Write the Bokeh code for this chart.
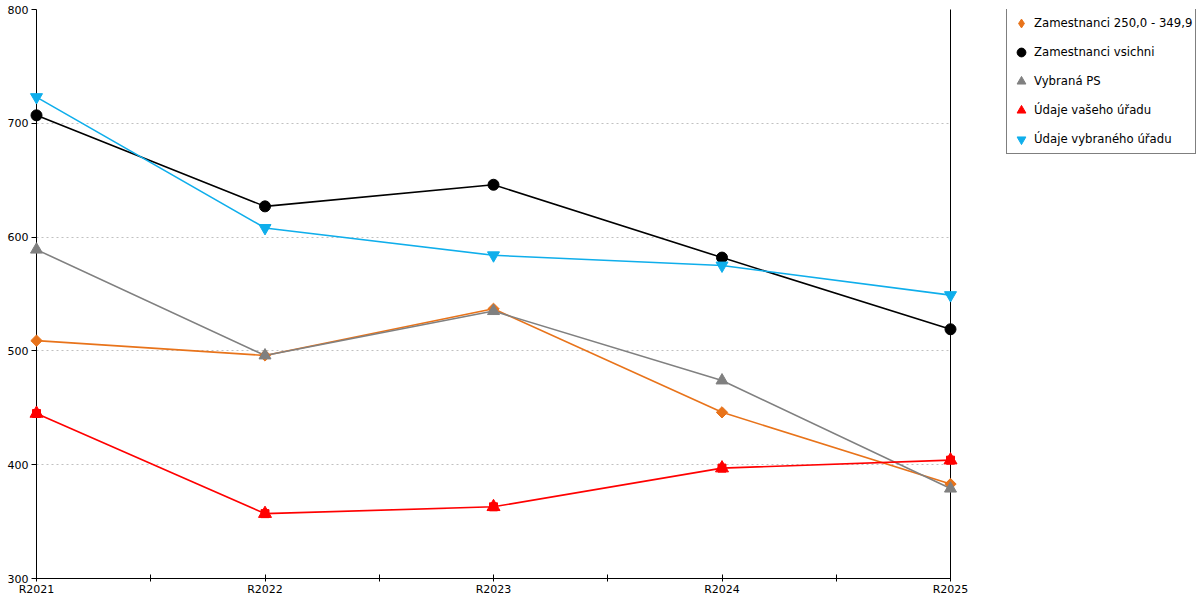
import math
from bokeh.plotting import figure
from bokeh.layouts import row
from bokeh.models import (ColumnDataSource, FixedTicker, Legend, LegendItem, LinearAxis, Range1d)
from bokeh.embed import file_html
from bokeh.resources import INLINE

categories = ["R2021", "R2022", "R2023", "R2024", "R2025"]
zam_250 = [509, 496, 537, 446, 383]
zam_all = [707, 627, 646, 582, 519]
vybrana_ps = [589, 496, 535, 474, 379]
vaseho_uradu = [445, 357, 363, 397, 404]
vybraneho_uradu = [723, 608, 584, 575, 549]

series_names = ["Zamestnanci 250,0 - 349,9", "Zamestnanci vsichni", "Vybraná PS",
                "Údaje vašeho úřadu", "Údaje vybraného úřadu"]
colors = ["#E8731A", "#000000", "#808080", "#FF0000", "#0FAEEB"]
y_ticks = [300, 400, 500, 600, 700, 800]

xs = list(range(len(categories)))
FONT = "DejaVu Sans"

p = figure(width=1000, height=598, output_backend="svg", toolbar_location=None,
           x_range=Range1d(0, len(categories) - 1), y_range=Range1d(y_ticks[0], y_ticks[-1]),
           min_border_left=36, min_border_top=9, min_border_bottom=19, min_border_right=50,
           background_fill_color="white", border_fill_color="white")
p.outline_line_color = None

# axes
half_ticks = [i + 0.5 for i in xs[:-1]]
p.xaxis.ticker = FixedTicker(ticks=sorted(xs + half_ticks))
overrides = {i: c for i, c in enumerate(categories)}
for h in half_ticks:
    overrides[h] = ""
p.xaxis.major_label_overrides = overrides
p.xaxis.major_tick_in = 4
p.xaxis.major_tick_out = 3
p.xaxis.minor_tick_line_color = None
p.xaxis.major_label_standoff = 1
p.yaxis.ticker = FixedTicker(ticks=y_ticks)
p.yaxis.major_tick_in = 0
p.yaxis.major_tick_out = 5
p.yaxis.minor_tick_line_color = None
p.yaxis.major_label_standoff = 3
for ax in [p.xaxis[0], p.yaxis[0]]:
    ax.axis_line_color = "black"
    ax.major_tick_line_color = "black"
    ax.major_label_text_font = FONT
    ax.major_label_text_font_size = "11px"
    ax.major_label_text_color = "#000000"

right_axis = LinearAxis(ticker=FixedTicker(ticks=[]), major_tick_line_color=None,
                        minor_tick_line_color=None, axis_line_color="black",
                        major_label_standoff=0, major_tick_out=0, major_tick_in=0)
p.add_layout(right_axis, "right")

p.xgrid.grid_line_color = None
p.ygrid.ticker = FixedTicker(ticks=y_ticks[1:])
p.ygrid.grid_line_color = "#C0C0C0"
p.ygrid.grid_line_dash = "2 3"
p.ygrid.grid_line_width = 1

series = [zam_250, zam_all, vybrana_ps, vaseho_uradu, vybraneho_uradu]
for vals, col in zip(series, colors):
    src = ColumnDataSource(dict(x=xs, y=vals))
    p.line("x", "y", source=src, line_color=col, line_width=1.6)


def add_markers(fig, src, k, col):
    if k == 0:
        return [fig.scatter("x", "y", source=src, marker="square", size=8, angle=math.pi / 4,
                            color=col, level="overlay")]
    if k == 1:
        return [fig.scatter("x", "y", source=src, marker="circle", size=11, color=col, level="overlay")]
    if k == 2:
        return [fig.scatter("x", "y", source=src, marker="triangle", size=12, color=col, level="overlay")]
    if k == 3:
        return [fig.scatter("x", "y", source=src, marker="triangle", size=13, color=col, level="overlay"),
                fig.scatter("x", "y", source=src, marker="square", size=8, color=col, level="overlay")]
    return [fig.scatter("x", "y", source=src, marker="inverted_triangle", size=12, color=col,
                        level="overlay")]


for k, (vals, col) in enumerate(zip(series, colors)):
    add_markers(p, ColumnDataSource(dict(x=xs, y=vals)), k, col)

# legend panel as a separate figure (its renderers fall outside its own ranges)
lg = figure(width=199, height=598, output_backend="svg", toolbar_location=None,
            x_range=Range1d(-3, -2), y_range=Range1d(0, 1), x_axis_type=None, y_axis_type=None,
            min_border=0, background_fill_color="white", border_fill_color="white")
lg.outline_line_color = None
lg.xgrid.visible = False
lg.ygrid.visible = False

legend_markers = ["diamond", "circle", "triangle", "triangle", "inverted_triangle"]
items = []
for name, vals, col, mk in zip(series_names, series, colors, legend_markers):
    r = lg.scatter("x", "y", source=ColumnDataSource(dict(x=xs, y=vals)), marker=mk, color=col)
    items.append(LegendItem(label=name, renderers=[r]))

legend = Legend(items=items, location=(6, 424), margin=0, padding=3, spacing=7,
                glyph_height=22, glyph_width=22, label_height=22, label_standoff=2,
                label_text_font=FONT, label_text_font_size="11.7px", label_text_color="#000000",
                border_line_color="black", border_line_width=1, background_fill_alpha=1,
                background_fill_color="white")
lg.add_layout(legend, "center")

layout = row(p, lg, spacing=0)
open("out.html", "w").write(file_html(layout, INLINE))
